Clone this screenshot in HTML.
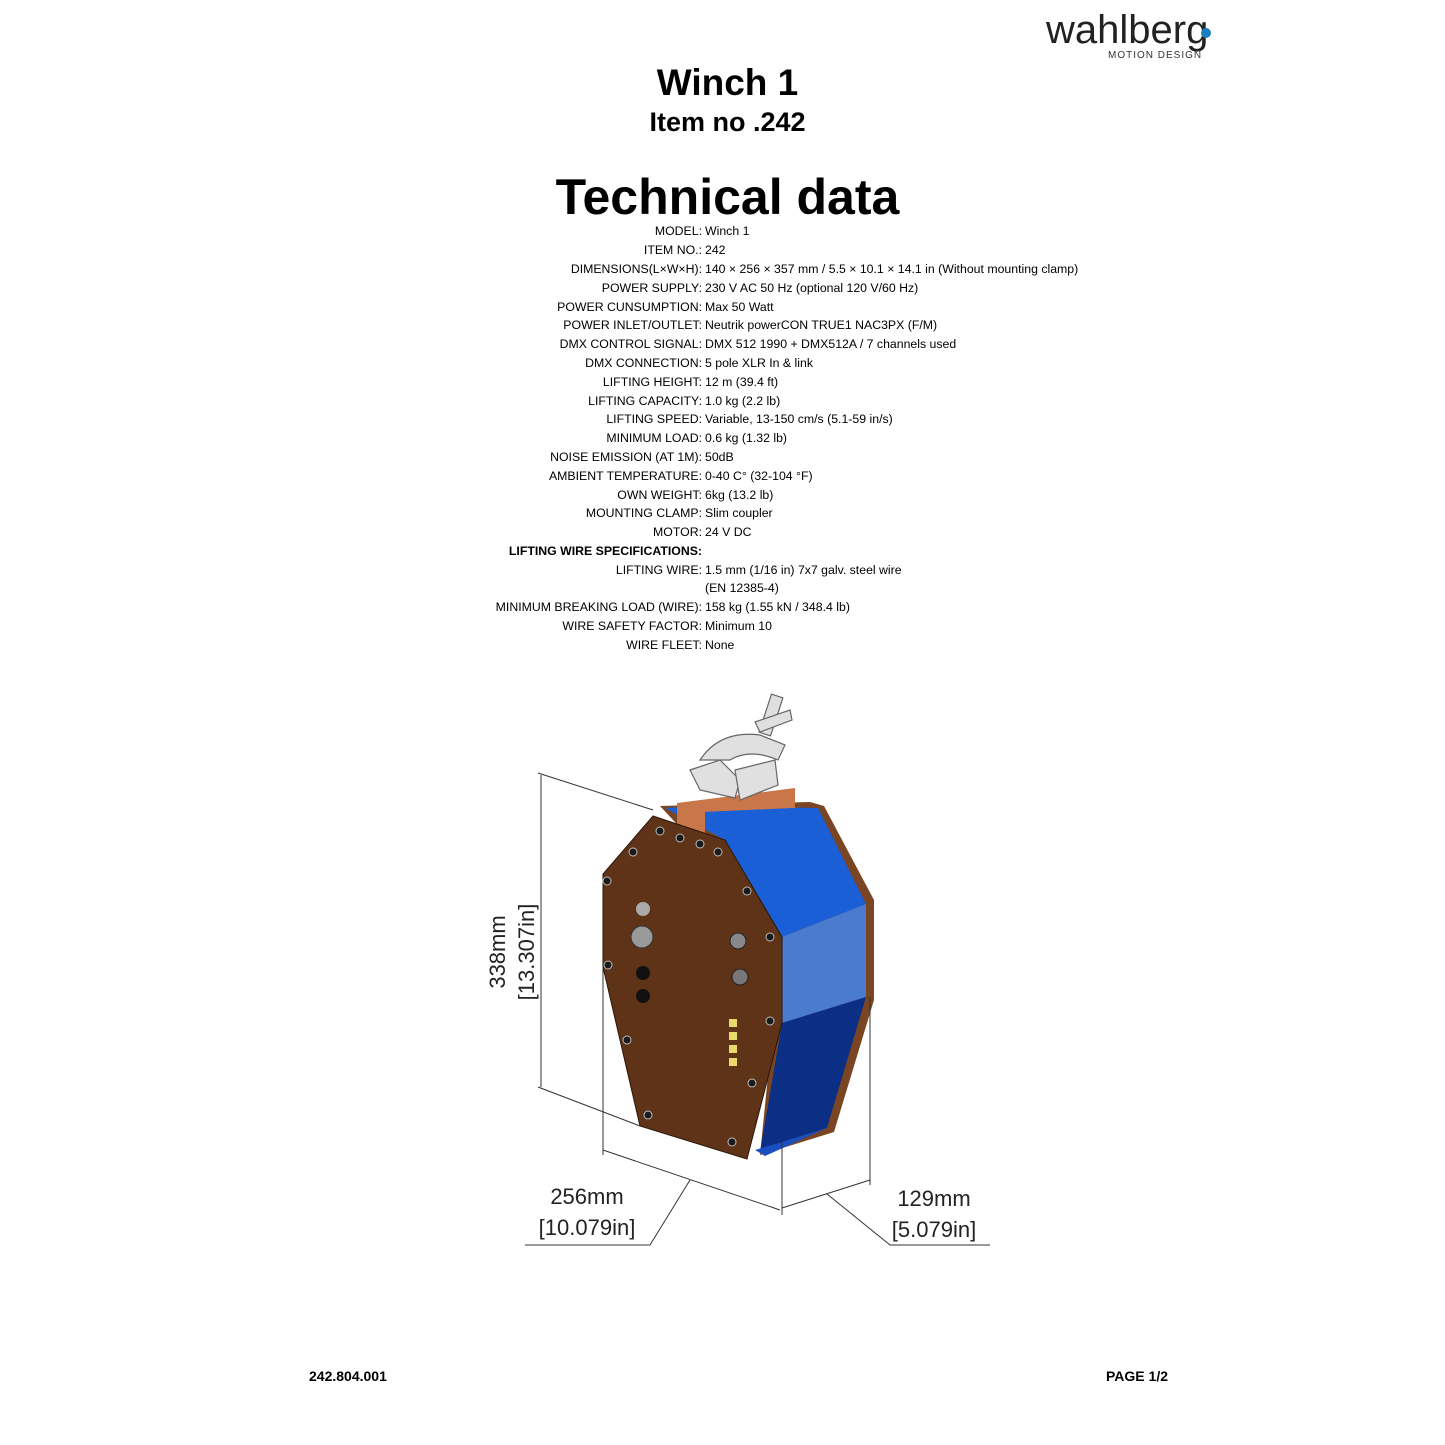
<!DOCTYPE html>
<html><head><style>
body{margin:0;background:#fff;width:1445px;height:1445px;position:relative;overflow:hidden;font-family:"Liberation Sans",sans-serif;color:#000}
.t{position:absolute;left:0;width:1455px;text-align:center;font-weight:bold}
.row{position:absolute;left:0;width:1445px;font-size:12.3px;height:19px;line-height:19px}
.row .l{position:absolute;right:743px;text-align:right;white-space:nowrap}
.row .v{position:absolute;left:705px;white-space:nowrap}
</style></head><body>
<div style="position:absolute;left:1046px;top:8px;font-size:40px;color:#222">wahlberg</div>
<div style="position:absolute;left:1201px;top:28px;width:10px;height:10px;border-radius:50%;background:#1a7fc0"></div>
<div style="position:absolute;left:1108px;top:50px;font-size:10px;color:#333;letter-spacing:1px">MOTION DESIGN</div>
<div class="t" style="top:62px;font-size:37px">Winch 1</div>
<div class="t" style="top:107px;font-size:27px">Item no .242</div>
<div class="t" style="top:168px;font-size:50px">Technical data</div>
<div class="row" style="top:222px"><span class="l">MODEL:</span><span class="v">Winch 1</span></div>
<div class="row" style="top:241px"><span class="l">ITEM NO.:</span><span class="v">242</span></div>
<div class="row" style="top:260px"><span class="l">DIMENSIONS(L×W×H):</span><span class="v">140 × 256 × 357 mm / 5.5 × 10.1 × 14.1 in (Without mounting clamp)</span></div>
<div class="row" style="top:279px"><span class="l">POWER SUPPLY:</span><span class="v">230 V AC 50 Hz (optional 120 V/60 Hz)</span></div>
<div class="row" style="top:298px"><span class="l">POWER CUNSUMPTION:</span><span class="v">Max 50 Watt</span></div>
<div class="row" style="top:316px"><span class="l">POWER INLET/OUTLET:</span><span class="v">Neutrik powerCON TRUE1 NAC3PX (F/M)</span></div>
<div class="row" style="top:335px"><span class="l">DMX CONTROL SIGNAL:</span><span class="v">DMX 512 1990 + DMX512A / 7 channels used</span></div>
<div class="row" style="top:354px"><span class="l">DMX CONNECTION:</span><span class="v">5 pole XLR In &amp; link</span></div>
<div class="row" style="top:373px"><span class="l">LIFTING HEIGHT:</span><span class="v">12 m (39.4 ft)</span></div>
<div class="row" style="top:392px"><span class="l">LIFTING CAPACITY:</span><span class="v">1.0 kg (2.2 lb)</span></div>
<div class="row" style="top:410px"><span class="l">LIFTING SPEED:</span><span class="v">Variable, 13-150 cm/s (5.1-59 in/s)</span></div>
<div class="row" style="top:429px"><span class="l">MINIMUM LOAD:</span><span class="v">0.6 kg (1.32 lb)</span></div>
<div class="row" style="top:448px"><span class="l">NOISE EMISSION (AT 1M):</span><span class="v">50dB</span></div>
<div class="row" style="top:467px"><span class="l">AMBIENT TEMPERATURE:</span><span class="v">0-40 C° (32-104 °F)</span></div>
<div class="row" style="top:486px"><span class="l">OWN WEIGHT:</span><span class="v">6kg (13.2 lb)</span></div>
<div class="row" style="top:504px"><span class="l">MOUNTING CLAMP:</span><span class="v">Slim coupler</span></div>
<div class="row" style="top:523px"><span class="l">MOTOR:</span><span class="v">24 V DC</span></div>
<div class="row" style="top:542px"><span class="l" style="font-weight:bold">LIFTING WIRE SPECIFICATIONS:</span></div>
<div class="row" style="top:561px"><span class="l">LIFTING WIRE:</span><span class="v">1.5 mm (1/16 in) 7x7 galv. steel wire</span></div>
<div class="row" style="top:579px"><span class="v">(EN 12385-4)</span></div>
<div class="row" style="top:598px"><span class="l">MINIMUM BREAKING LOAD (WIRE):</span><span class="v">158 kg (1.55 kN / 348.4 lb)</span></div>
<div class="row" style="top:617px"><span class="l">WIRE SAFETY FACTOR:</span><span class="v">Minimum 10</span></div>
<div class="row" style="top:636px"><span class="l">WIRE FLEET:</span><span class="v">None</span></div>

<svg style="position:absolute;left:0;top:0" width="1445" height="1445" viewBox="0 0 1445 1445">
<!-- back brown panel behind -->
<polygon points="660,806 810,802 824,806 874,900 874,1000 834,1132 760,1155 782,937" fill="#7a4522"/>
<!-- blue faces -->
<polygon points="665,808 700,806 818,808 866,904 782,937 725,840" fill="#1b5fd6"/>
<polygon points="782,937 866,904 866,997 782,1023" fill="#4b7bce"/>
<polygon points="782,1023 866,997 827,1128 782,1142 760,1152" fill="#0c2f86"/>
<polygon points="755,1150 782,1142 827,1128 765,1156" fill="#1a4fc0"/>
<!-- copper top -->
<polygon points="677,803 795,788 795,808 705,812 705,837 677,828" fill="#c8764a"/>
<polygon points="705,812 795,808 813,816 725,825" fill="#1b5fd6"/>
<!-- front brown panel -->
<polygon points="653,816 725,840 782,937 782,1023 747,1159 640,1126 603,967 603,874" fill="#5e3318" stroke="#2a1608" stroke-width="1"/>
<g fill="#1a1a1a" stroke="#bbb" stroke-width="1">
<circle cx="660" cy="831" r="4"/><circle cx="680" cy="838" r="4"/><circle cx="700" cy="844" r="4"/><circle cx="718" cy="852" r="4"/>
<circle cx="633" cy="852" r="4"/><circle cx="607" cy="881" r="4"/><circle cx="747" cy="891" r="4"/>
<circle cx="770" cy="937" r="4"/><circle cx="608" cy="965" r="4"/><circle cx="770" cy="1021" r="4"/>
<circle cx="627" cy="1040" r="4"/><circle cx="752" cy="1083" r="4"/><circle cx="648" cy="1115" r="4"/><circle cx="732" cy="1142" r="4"/>
</g>
<circle cx="643" cy="909" r="7" fill="#aaa"/><circle cx="642" cy="937" r="11" fill="#999" stroke="#333"/>
<circle cx="643" cy="973" r="7" fill="#111"/><circle cx="643" cy="996" r="7" fill="#111"/>
<circle cx="738" cy="941" r="8" fill="#888" stroke="#222"/><circle cx="740" cy="977" r="8" fill="#777" stroke="#222"/>
<g fill="#e8d96a"><rect x="729" y="1019" width="8" height="8"/><rect x="729" y="1032" width="8" height="8"/><rect x="729" y="1045" width="8" height="8"/><rect x="729" y="1058" width="8" height="8"/></g>
<!-- clamp -->
<g fill="#e0e0e0" stroke="#666" stroke-width="1.2">
<path d="M700,760 Q720,730 760,735 L785,745 L778,760 Q750,748 730,760 Z"/>
<path d="M690,770 L720,760 L740,780 L735,798 L700,790 Z"/>
<path d="M735,770 L775,760 L778,785 L740,800 Z"/>
<rect x="765" y="695" width="12" height="40" transform="rotate(18 771 715)"/>
<path d="M755,722 L790,710 L792,720 L760,732 Z"/>
</g>
<!-- dimensions -->
<g stroke="#333" stroke-width="1" fill="none">
<line x1="541" y1="775" x2="541" y2="1087"/>
<line x1="538" y1="773" x2="653" y2="810"/>
<line x1="538" y1="1087" x2="640" y2="1126"/>
<line x1="603" y1="967" x2="603" y2="1155"/>
<line x1="782" y1="1142" x2="782" y2="1215"/>
<line x1="870" y1="997" x2="870" y2="1185"/>
<line x1="603" y1="1150" x2="780" y2="1210"/>
<line x1="782" y1="1208" x2="870" y2="1180"/>
<polyline points="690,1180 650,1245 525,1245"/>
<polyline points="827,1194 890,1245 990,1245"/>
</g>
<text transform="translate(505,952) rotate(-90)" text-anchor="middle" font-family="Liberation Sans" font-size="22" fill="#222">338mm</text>
<text transform="translate(534,952) rotate(-90)" text-anchor="middle" font-family="Liberation Sans" font-size="22" fill="#222">[13.307in]</text>
<text x="587" y="1204" text-anchor="middle" font-family="Liberation Sans" font-size="22" fill="#222">256mm</text>
<text x="587" y="1235" text-anchor="middle" font-family="Liberation Sans" font-size="22" fill="#222">[10.079in]</text>
<text x="934" y="1206" text-anchor="middle" font-family="Liberation Sans" font-size="22" fill="#222">129mm</text>
<text x="934" y="1237" text-anchor="middle" font-family="Liberation Sans" font-size="22" fill="#222">[5.079in]</text>
</svg>
<div style="position:absolute;left:309px;top:1368px;font-size:14px;font-weight:bold">242.804.001</div>
<div style="position:absolute;right:277px;top:1368px;font-size:14px;font-weight:bold">PAGE 1/2</div>
</body></html>
